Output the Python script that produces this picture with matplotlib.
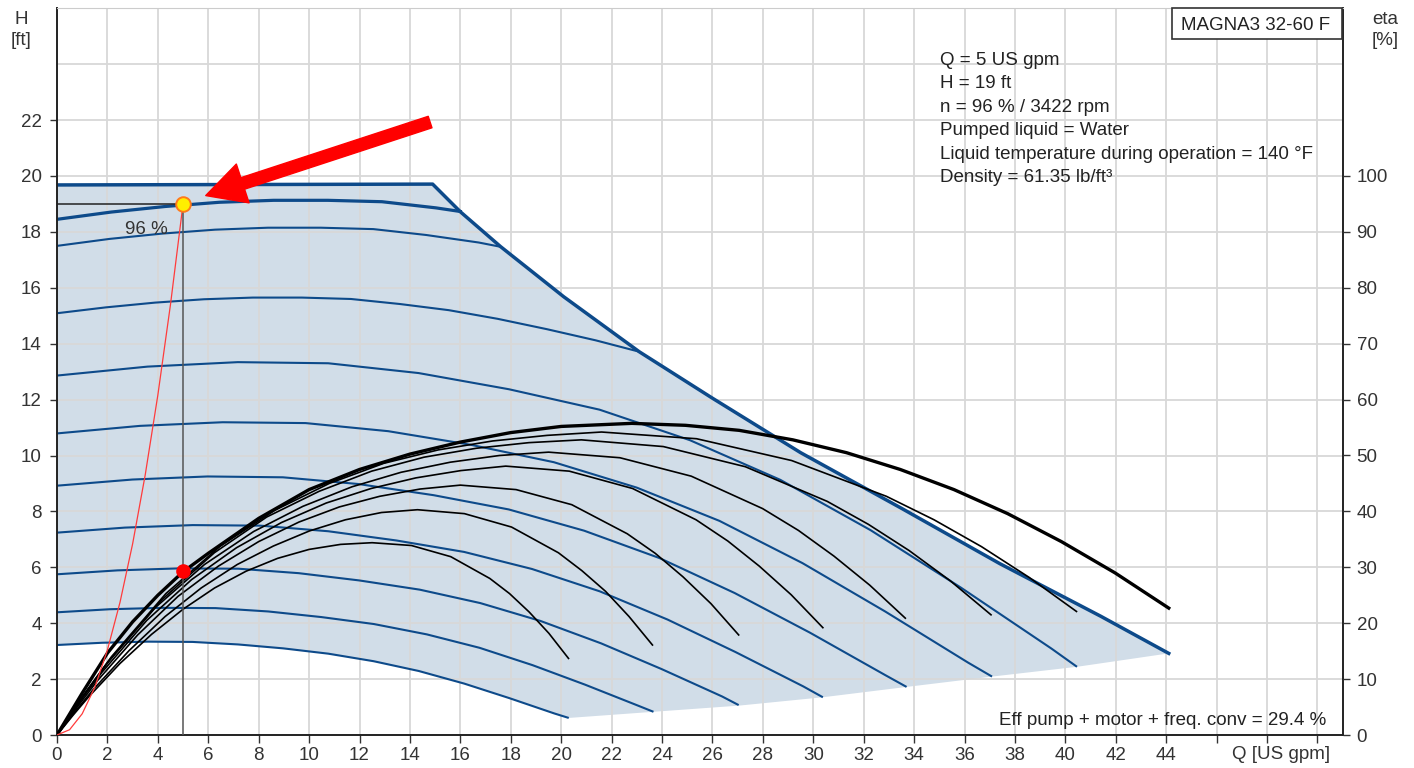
import matplotlib
matplotlib.use('Agg')
import matplotlib.pyplot as plt
from matplotlib.patches import Rectangle

plt.rcParams['font.family'] = ['Liberation Sans', 'DejaVu Sans']

# ---- QH curves (Q in US gpm, H in ft), one per speed step ----
c1_q = [0, 1.79, 3.59, 5.38, 7.18, 8.97, 10.76, 12.56, 14.35, 16.15, 17.94, 19.73, 20.30]
c1_h = [3.22, 3.30, 3.34, 3.33, 3.24, 3.10, 2.91, 2.64, 2.29, 1.84, 1.32, 0.77, 0.61]
c2_q = [0, 2.10, 4.19, 6.29, 8.38, 10.48, 12.57, 14.67, 16.76, 18.86, 20.95, 23.05, 23.66]
c2_h = [4.39, 4.50, 4.55, 4.54, 4.42, 4.22, 3.97, 3.60, 3.12, 2.50, 1.80, 1.05, 0.83]
c3_q = [0, 2.40, 4.80, 7.19, 9.59, 11.99, 14.39, 16.79, 19.18, 21.58, 23.98, 26.38, 27.04]
c3_h = [5.75, 5.89, 5.96, 5.95, 5.79, 5.53, 5.20, 4.72, 4.08, 3.28, 2.36, 1.38, 1.07]
c4_q = [0, 2.69, 5.38, 8.07, 10.76, 13.46, 16.15, 18.84, 21.53, 24.22, 26.91, 29.60, 30.38]
c4_h = [7.24, 7.42, 7.51, 7.49, 7.29, 6.96, 6.55, 5.94, 5.14, 4.13, 2.97, 1.74, 1.35]
c5_q = [0, 2.99, 5.97, 8.96, 11.95, 14.94, 17.92, 20.91, 23.90, 26.88, 29.87, 32.86, 33.70]
c5_h = [8.92, 9.14, 9.25, 9.22, 8.98, 8.58, 8.07, 7.31, 6.33, 5.08, 3.66, 2.14, 1.72]
c6_q = [0, 3.29, 6.57, 9.86, 13.14, 16.43, 19.71, 23.00, 26.28, 29.57, 32.85, 36.14, 37.09]
c6_h = [10.79, 11.06, 11.19, 11.16, 10.87, 10.38, 9.76, 8.85, 7.66, 6.15, 4.42, 2.59, 2.09]
c7_q = [0, 3.59, 7.17, 10.76, 14.34, 17.93, 21.52, 25.10, 28.69, 32.27, 35.86, 39.45, 40.46]
c7_h = [12.86, 13.18, 13.34, 13.30, 12.95, 12.37, 11.64, 10.55, 9.13, 7.33, 5.27, 3.09, 2.44]
c8_q = [0, 1.94, 3.89, 5.83, 7.77, 9.71, 11.66, 13.60, 15.54, 17.48, 19.43, 21.37, 23.07]
c8_h = [15.09, 15.30, 15.47, 15.59, 15.65, 15.65, 15.60, 15.42, 15.20, 14.89, 14.52, 14.12, 13.72]
c9_q = [0, 2.09, 4.18, 6.27, 8.37, 10.46, 12.55, 14.64, 16.73, 17.58]
c9_h = [17.50, 17.75, 17.94, 18.08, 18.15, 18.15, 18.10, 17.89, 17.62, 17.47]
c96_q = [0, 2.15, 4.30, 6.44, 8.59, 10.74, 12.89, 15.03, 16.00]
c96_h = [18.45, 18.71, 18.91, 19.06, 19.13, 19.13, 19.08, 18.86, 18.73]
max_q = [0, 14.9, 16.0, 17.6, 20.1, 23.1, 26.0, 29.5, 33.5, 37.4, 41.4, 44.1]
max_h = [19.68, 19.71, 18.72, 17.47, 15.68, 13.71, 12.05, 10.10, 8.11, 6.13, 4.25, 2.92]
# lower edge of the operating area (end points of the curves)
edge_q = [44.1, 40.46, 37.09, 33.70, 30.38, 27.04, 23.66, 20.30]
edge_h = [2.92, 2.44, 2.09, 1.72, 1.35, 1.05, 0.83, 0.61]

# ---- efficiency curves (eta in %) ----
e1_q = [0, 0.63, 1.25, 2.5, 3.75, 5.0, 6.25, 7.5, 8.75, 10.0, 11.25, 12.5, 14.06, 15.62, 17.17, 17.95, 18.73, 19.51, 20.29]
e1_eta = [0, 3.5, 6.8, 12.8, 18.0, 22.5, 26.3, 29.3, 31.6, 33.2, 34.1, 34.4, 33.9, 31.9, 28.0, 25.3, 22.0, 18.2, 13.7]
e2_q = [0, 0.72, 1.43, 2.86, 4.29, 5.72, 7.15, 8.58, 10.01, 11.44, 12.87, 14.3, 16.16, 18.03, 19.89, 20.82, 21.76, 22.69, 23.62]
e2_eta = [0, 4.2, 8.1, 15.1, 21.2, 26.3, 30.5, 33.8, 36.5, 38.5, 39.8, 40.3, 39.6, 37.2, 32.6, 29.4, 25.7, 21.2, 16.1]
e3_q = [0, 0.8, 1.6, 3.2, 4.8, 6.4, 8.0, 9.6, 11.2, 12.8, 14.4, 16.0, 18.21, 20.42, 22.62, 23.73, 24.83, 25.94, 27.04]
e3_eta = [0, 5.0, 9.7, 17.9, 24.8, 30.2, 34.6, 38.1, 40.8, 42.7, 44.0, 44.7, 43.9, 41.2, 36.0, 32.5, 28.3, 23.5, 17.9]
e4_q = [0, 0.89, 1.78, 3.56, 5.34, 7.12, 8.9, 10.68, 12.46, 14.24, 16.02, 17.8, 20.32, 22.83, 25.35, 26.61, 27.86, 29.12, 30.38]
e4_eta = [0, 5.9, 11.2, 20.5, 27.8, 33.5, 38.0, 41.5, 44.1, 46.0, 47.3, 48.1, 47.2, 44.1, 38.5, 34.7, 30.2, 25.1, 19.2]
e5_q = [0, 0.98, 1.95, 3.9, 5.85, 7.8, 9.75, 11.7, 13.65, 15.6, 17.55, 19.5, 22.33, 25.16, 27.99, 29.41, 30.82, 32.24, 33.65]
e5_eta = [0, 6.6, 12.6, 22.8, 30.5, 36.4, 40.9, 44.4, 47.0, 48.8, 50.0, 50.6, 49.6, 46.3, 40.5, 36.6, 32.0, 26.8, 20.9]
e6_q = [0, 1.04, 2.08, 4.16, 6.24, 8.32, 10.4, 12.48, 14.56, 16.64, 18.72, 20.8, 24.05, 27.3, 30.55, 32.18, 33.8, 35.43, 37.05]
e6_eta = [0, 7.0, 13.4, 24.2, 32.6, 39.0, 43.6, 47.2, 49.7, 51.3, 52.3, 52.8, 51.6, 48.0, 41.8, 37.7, 33.0, 27.6, 21.5]
e7_q = [0, 1.08, 2.16, 4.32, 6.48, 8.64, 10.8, 12.96, 15.12, 17.28, 19.44, 21.6, 25.37, 29.14, 32.9, 34.79, 36.67, 38.56, 40.44]
e7_eta = [0, 7.3, 14.0, 25.3, 33.8, 40.2, 45.0, 48.6, 51.0, 52.6, 53.6, 54.2, 53.0, 49.1, 42.7, 38.5, 33.7, 28.2, 22.1]
e8_q = [0, 1, 2, 3, 4, 5, 6, 8, 10, 12, 14, 16, 18, 20, 22.8, 24.93, 27.06, 29.19,
        31.32, 33.45, 35.58, 37.71, 39.84, 41.97, 44.1]
e8_eta = [0, 7.5, 14.65, 20.25, 25.0, 29.2, 32.5, 38.75, 43.9, 47.5, 50.25, 52.4, 54.1, 55.2, 55.75,
          55.4, 54.5, 52.8, 50.5, 47.5, 43.9, 39.6, 34.6, 29.0, 22.7]

# ---- system curve and duty point ----
sys_q = [0, 0.5, 1.0, 1.5, 2.0, 2.5, 3.0, 3.5, 4.0, 4.5, 5.0]
sys_h = [0, 0.19, 0.76, 1.71, 3.04, 4.75, 6.84, 9.31, 12.16, 15.39, 19.0]
duty_q, duty_h, duty_eta = 5, 19, 29.4

info_lines = ['Q = 5 US gpm', 'H = 19 ft', 'n = 96 % / 3422 rpm', 'Pumped liquid = Water',
              'Liquid temperature during operation = 140 °F', 'Density = 61.35 lb/ft³']

W, H = 1414, 768
BLUE = '#0d4a8a'
FILL = '#d1dde8'
TXT = '#333333'
FS = 13.5


def px(x, y):
    return x / W, 1 - y / H


fig = plt.figure(figsize=(W / 100, H / 100), dpi=100)
ax = fig.add_axes([57 / W, 1 - 735 / H, (1342.7 - 57) / W, (735 - 8.3) / H])
ax.set_xlim(0, 51)
ax.set_ylim(0, 26)

# operating area
fill_q = max_q + edge_q + c1_q[::-1]
fill_h = max_h + edge_h + c1_h[::-1]
ax.fill(fill_q, fill_h, color=FILL, lw=0, zorder=1)

for q, h in [(c1_q, c1_h), (c2_q, c2_h), (c3_q, c3_h), (c4_q, c4_h), (c5_q, c5_h),
             (c6_q, c6_h), (c7_q, c7_h), (c8_q, c8_h), (c9_q, c9_h)]:
    ax.plot(q, h, color=BLUE, lw=1.5, zorder=2, solid_capstyle='butt')
ax.plot(c96_q, c96_h, color=BLUE, lw=2.3, zorder=2)
ax.plot(max_q, max_h, color=BLUE, lw=2.5, zorder=2)

ax.set_xticks(range(0, 51, 2))
ax.set_xticklabels([str(v) if v <= 44 else '' for v in range(0, 51, 2)])
ax.set_yticks(range(0, 23, 2))
ax.set_yticks([24], minor=True)
ax.yaxis.tick_left()
ax.set_axisbelow('line')
ax.grid(which='both', color='#d8d8d8', lw=1.3)
ax.tick_params(axis='x', direction='out', length=6, width=1, colors=TXT, labelsize=FS, pad=3)
ax.tick_params(axis='y', direction='out', length=5, width=1, colors=TXT, labelsize=FS, pad=6)
ax.tick_params(which='minor', length=0)
for s in ['left', 'bottom', 'right']:
    ax.spines[s].set_color('#222222')
    ax.spines[s].set_linewidth(1.4)
ax.spines['top'].set_color('#cccccc')

# efficiency axis
ax2 = ax.twinx()
ax2.set_ylim(0, 130)
ax2.set_yticks(range(0, 101, 10))
ax2.tick_params(axis='y', direction='out', length=5, width=1, colors=TXT, labelsize=FS, pad=5)
for s in ax2.spines.values():
    s.set_visible(False)

for q, e in [(e1_q, e1_eta), (e2_q, e2_eta), (e3_q, e3_eta), (e4_q, e4_eta),
             (e5_q, e5_eta), (e6_q, e6_eta), (e7_q, e7_eta)]:
    ax2.plot(q, e, color='black', lw=1.2, zorder=3)
ax2.plot(e8_q, e8_eta, color='black', lw=2.4, zorder=3)

hd = ax.transData
ax2.plot(sys_q, sys_h, color='#ff3b3b', lw=0.9, transform=hd, zorder=4)
ax2.plot([duty_q, duty_q], [0, duty_h], color='#555555', lw=1.1, transform=hd, zorder=4)
ax2.plot([0, duty_q], [duty_h, duty_h], color='#222222', lw=1.1, transform=hd, zorder=4)
ax2.plot([duty_q], [duty_eta], 'o', ms=9.5, color='#ff0000', zorder=6)
ax2.plot([duty_q], [duty_h], 'o', ms=10.5, mfc='#ffee00', mec='#ff7a1a', mew=1.4,
         transform=hd, zorder=6)
ax2.annotate('', xy=(5.9, 19.3), xytext=(14.8, 21.93), xycoords=hd, textcoords=hd,
             arrowprops=dict(arrowstyle='simple,head_length=2.0,head_width=2.1,tail_width=0.62',
                             color='#ff0000', mutation_scale=14, shrinkA=0, shrinkB=0), zorder=7)

# texts
fig.text(*px(146, 234), '96 %', fontsize=FS, color=TXT, ha='center', va='baseline')
for i, line in enumerate(info_lines):
    fig.text(*px(940, 65 + 23.4 * i), line, fontsize=FS, color='#222222', ha='left', va='baseline')
fig.add_artist(Rectangle(px(1172, 39), (1342 - 1172) / W, 30.7 / H, transform=fig.transFigure,
                         fc='white', ec='#333333', lw=1.2))
fig.text(*px(1256, 30), 'MAGNA3 32-60 F', fontsize=FS, color='#222222', ha='center', va='baseline')
fig.text(*px(1326, 725), 'Eff pump + motor + freq. conv = 29.4 %', fontsize=FS, color='#222222',
         ha='right', va='baseline')
fig.text(*px(1281, 759), 'Q [US gpm]', fontsize=FS, color=TXT, ha='center', va='baseline')
fig.text(*px(21, 24), 'H', fontsize=FS, color=TXT, ha='center', va='baseline')
fig.text(*px(21, 45), '[ft]', fontsize=FS, color=TXT, ha='center', va='baseline')
fig.text(*px(1385, 24), 'eta', fontsize=FS, color=TXT, ha='center', va='baseline')
fig.text(*px(1385, 45), '[%]', fontsize=FS, color=TXT, ha='center', va='baseline')

fig.savefig('out.png', dpi=100)
